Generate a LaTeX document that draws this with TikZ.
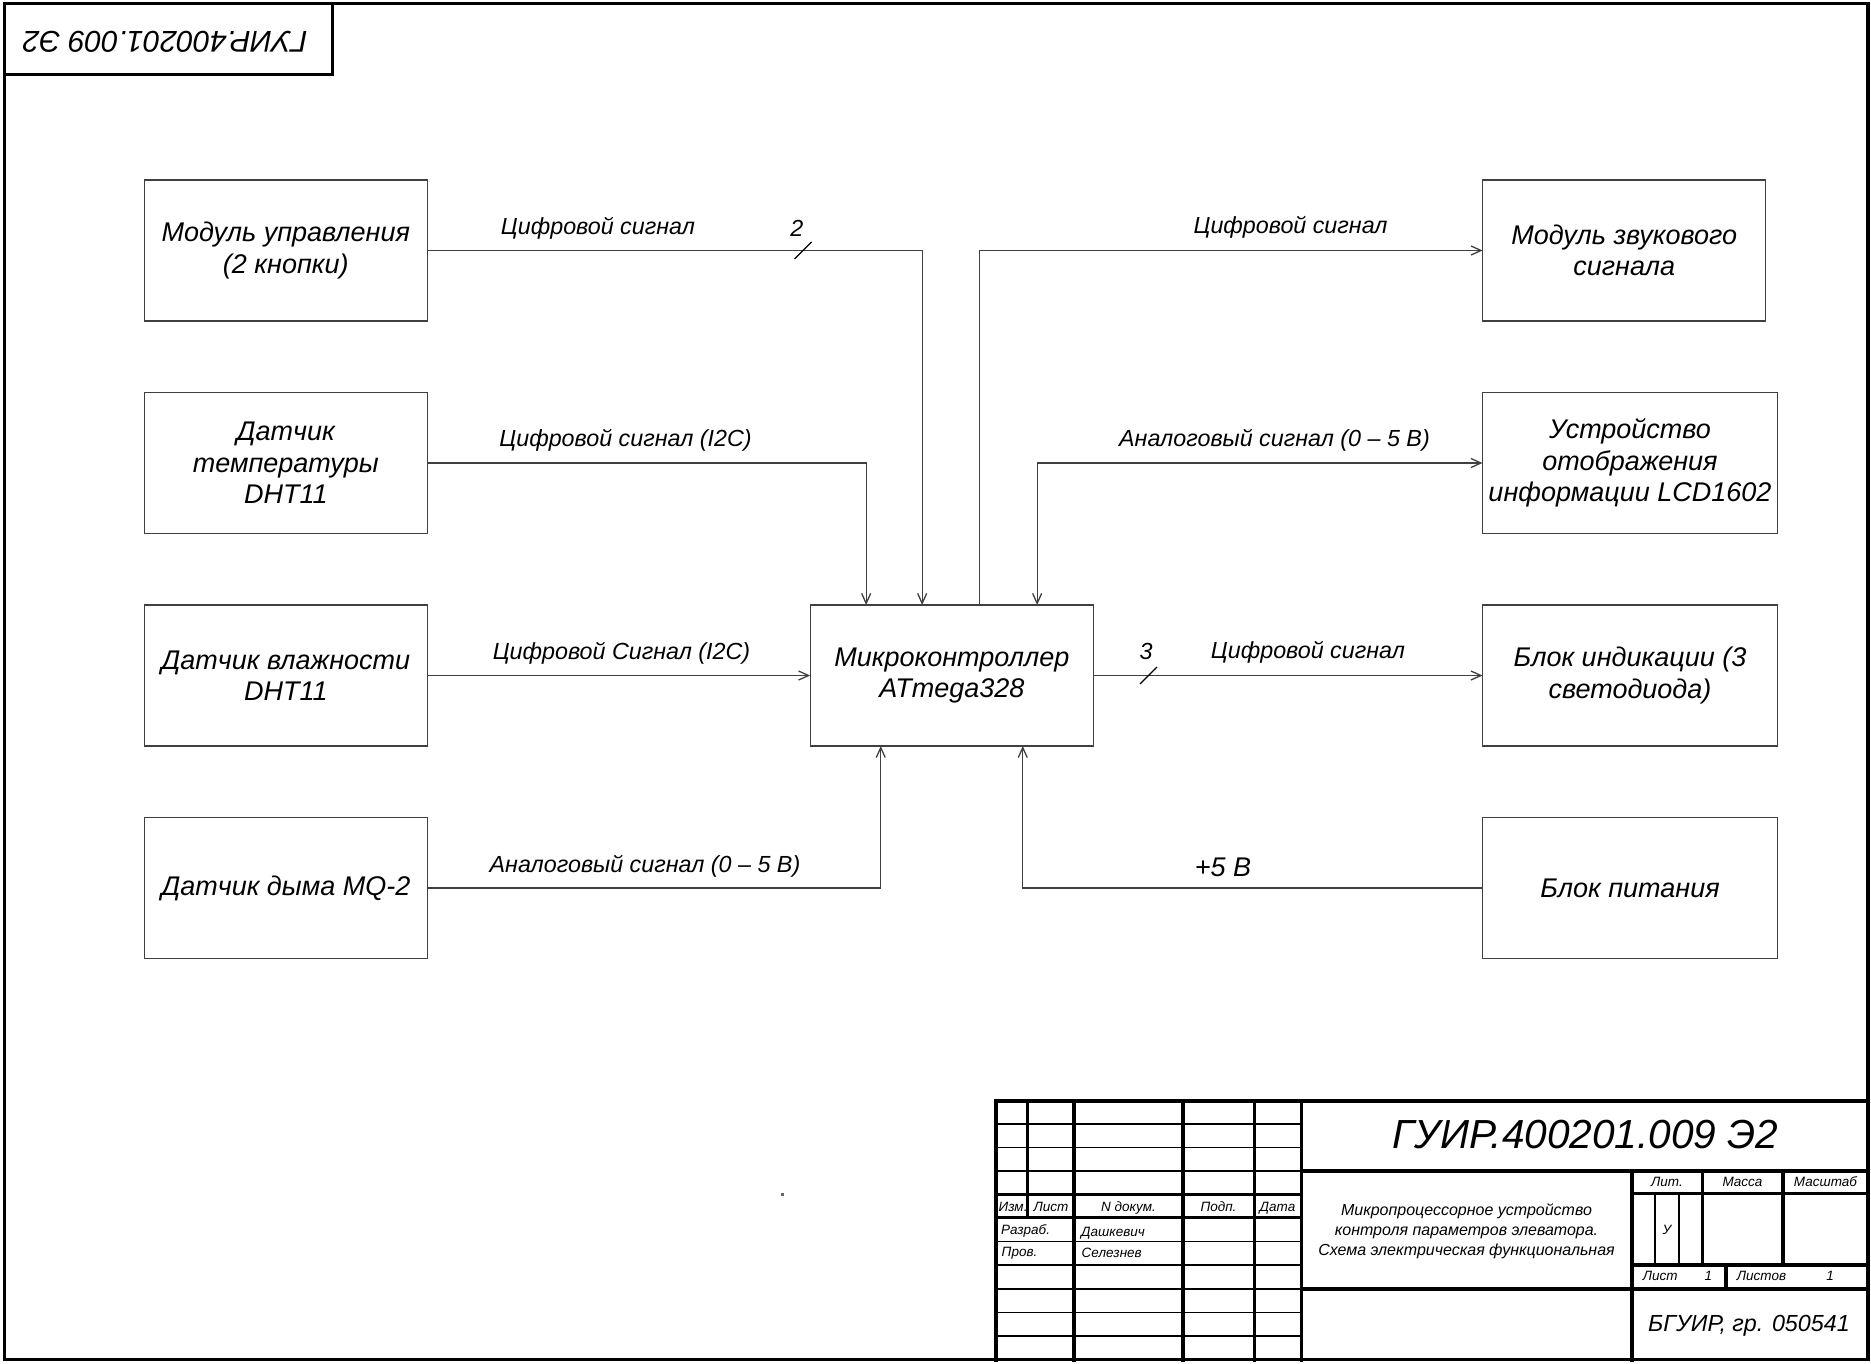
\documentclass[tikz,border=0pt]{standalone}
\usepackage{fontspec}
\setmainfont{Liberation Sans}
\usetikzlibrary{arrows.meta}
\begin{document}
\begin{tikzpicture}[x=1pt,y=-1pt,
  blk/.style={draw=black!75,line width=1.3pt,inner sep=0pt,outer sep=0pt,align=center,
    minimum height=141pt,font=\fontsize{27}{31.5}\selectfont\itshape},
  sig/.style={draw=black!75,line width=1.3pt,-{Straight Barb[length=10pt,width=9pt]}},
  sigb/.style={draw=black!75,line width=1.3pt,{Straight Barb[length=10pt,width=9pt]}-{Straight Barb[length=10pt,width=9pt]}},
  slash/.style={draw=black,line width=1.3pt},
  lbl/.style={anchor=base,inner sep=0pt,font=\fontsize{23.3}{28}\selectfont\itshape},
  biglbl/.style={anchor=base,inner sep=0pt,font=\fontsize{27}{31.5}\selectfont\itshape},
  tk/.style={line width=3.5pt,line cap=rect},
  tn/.style={line width=1.2pt},
  sm/.style={anchor=base,inner sep=0pt,font=\fontsize{13.5}{16}\selectfont\itshape},
  smc/.style={anchor=base west,inner sep=0pt,font=\fontsize{13.5}{16}\selectfont\itshape},
  desc/.style={anchor=base,inner sep=0pt,font=\fontsize{16}{20}\selectfont\itshape}
]
\useasboundingbox (0,0) rectangle (1871,1363);
\fill[white] (0,0) rectangle (1871,1363);

% frame
\draw[line width=3.5pt] (4.3,3.3) rectangle (1868,1359.5);
\draw[line width=3.5pt] (4.3,3.3) rectangle (332.7,74.3);
\node[rotate=180,inner sep=0pt,font=\fontsize{30}{34}\selectfont\itshape] (code) at (165,41.7) {ГУИР.400201.009 Э2};

% blocks
\node[blk,minimum width=283.3pt] (m1) at (285.8,250.5) {Модуль управления\\(2 кнопки)};
\node[blk,minimum width=283.3pt] (m2) at (285.8,463) {Датчик\\температуры\\DHT11};
\node[blk,minimum width=283.3pt] (m3) at (285.8,675.5) {Датчик влажности\\DHT11};
\node[blk,minimum width=283.3pt] (m4) at (285.8,888) {Датчик дыма MQ-2};
\node[blk,minimum width=283.3pt] (mcu) at (951.8,675.5) {Микроконтроллер\\ATmega328};
\node[blk,minimum width=283.1pt] (r1) at (1624.2,250.5) {Модуль звукового\\сигнала};
\node[blk,minimum width=295pt] (r2) at (1630,463) {Устройство\\отображения\\информации LCD1602};
\node[blk,minimum width=295pt] (r3) at (1630,675.5) {Блок индикации (3\\светодиода)};
\node[blk,minimum width=295pt] (r4) at (1630,888) {Блок питания};

% connection points on MCU
\coordinate (in1) at ([xshift=56pt]mcu.north west);
\coordinate (in2) at ([xshift=112pt]mcu.north west);
\coordinate (in3) at ([xshift=169.6pt]mcu.north west);
\coordinate (in4) at ([xshift=227pt]mcu.north west);
\coordinate (in5) at ([xshift=70.6pt]mcu.south west);
\coordinate (in6) at ([xshift=212.6pt]mcu.south west);
\coordinate (s2) at (803,250.5);
\coordinate (s3) at (1148.5,675.5);

% connectors
\draw[sig] (m1.east) -- (s2) -| (in2);
\draw[sig] (m2.east) -| (in1);
\draw[sig] (m3.east) -- (mcu.west);
\draw[sig] (m4.east) -| (in5);
\draw[sig] (in3) |- (r1.west);
\draw[sigb] (in4) |- (r2.west);
\draw[sig] (mcu.east) -- (s3) -- (r3.west);
\draw[sig] (r4.west) -| (in6);
\draw[slash] ([shift={(-8.5,8.5)}]s2) -- ([shift={(8.5,-8.5)}]s2);
\draw[slash] ([shift={(-8.5,8.5)}]s3) -- ([shift={(8.5,-8.5)}]s3);

% labels
\node[lbl] (l1) at (598,234) {Цифровой сигнал};
\node[lbl] (n2) at (796.8,236.5) {2};
\node[lbl] (l2) at (625.6,446.7) {Цифровой сигнал (I2C)};
\node[lbl] (l3) at (621.5,659.3) {Цифровой Сигнал (I2C)};
\node[lbl] (l4) at (645,872.7) {Аналоговый сигнал (0 – 5 В)};
\node[lbl] (q1) at (1290.6,233) {Цифровой сигнал};
\node[lbl] (q2) at (1274.5,446.7) {Аналоговый сигнал (0 – 5 В)};
\node[lbl] (q3) at (1308,658) {Цифровой сигнал};
\node[lbl] (n3) at (1146,659) {3};
\node[biglbl] (q4) at (1223,876.7) {+5 В};

% stray mark
\fill[black!60] (780.5,1193) rectangle (783.5,1195.5);

% title block thick lines
\draw[tk] (996,1101) -- (1868,1101);
\draw[tk] (996,1101) -- (996,1360);
\draw[tk] (1027.5,1101) -- (1027.5,1217.5);
\draw[tk] (1074,1101) -- (1074,1360);
\draw[tk] (1183,1101) -- (1183,1360);
\draw[tk] (1254.5,1101) -- (1254.5,1360);
\draw[tk] (1301.5,1101) -- (1301.5,1360);
\draw[tk] (996,1194.5) -- (1301.5,1194.5);
\draw[tk] (996,1217.5) -- (1301.5,1217.5);
\draw[tk] (1301.5,1171) -- (1868,1171);
\draw[tk] (1301.5,1289) -- (1868,1289);
\draw[tk] (1632,1171) -- (1632,1360);
\draw[tk] (1702.5,1171) -- (1702.5,1265);
\draw[tk] (1783,1171) -- (1783,1265);
\draw[tk] (1632,1193.5) -- (1868,1193.5);
\draw[tk] (1632,1265) -- (1868,1265);
\draw[tk] (1726,1265) -- (1726,1289);
% thin lines
\foreach \yy in {1124,1147.5,1171,1241.5,1265,1289,1312.5,1336}
  \draw[tn] (996,\yy) -- (1301.5,\yy);
\draw[tn] (1655,1193.5) -- (1655,1265);
\draw[tn] (1679,1193.5) -- (1679,1265);

% title block texts
\node[smc] (t1) at (998.5,1211) {Изм.};
\node[sm] (t2) at (1051,1211) {Лист};
\node[sm] (t3) at (1128.5,1211) {N докум.};
\node[sm] (t4) at (1218.5,1211) {Подп.};
\node[sm] (t5) at (1277.5,1211) {Дата};
\node[smc] (t6) at (1001,1234) {Разраб.};
\node[smc] (t7) at (1081,1236.5) {Дашкевич};
\node[smc] (t8) at (1001.5,1256.7) {Пров.};
\node[smc] (t9) at (1081.5,1257) {Селезнев};
\node[sm] (t10) at (1667,1186) {Лит.};
\node[sm] (t11) at (1742.5,1186) {Масса};
\node[sm] (t12) at (1825.5,1186) {Масштаб};
\node[sm] (t13) at (1667,1234) {У};
\node[smc] (t14) at (1642.7,1280.7) {Лист};
\node[sm] (t15) at (1708.3,1280.7) {1};
\node[smc] (t16) at (1736.7,1280.7) {Листов};
\node[sm] (t17) at (1830,1280.7) {1};
\node[anchor=base,inner sep=0pt,font=\fontsize{40.6}{46}\selectfont\itshape] (ttl) at (1585.7,1148.3) {ГУИР.400201.009 Э2};
\node[desc] (d1) at (1466.5,1215) {Микропроцессорное устройство};
\node[desc] (d2) at (1466.5,1235) {контроля параметров элеватора.};
\node[desc] (d3) at (1466.5,1255) {Схема электрическая функциональная};
\node[anchor=base,inner sep=0pt,font=\fontsize{23.3}{28}\selectfont\itshape] (org) at (1749,1331.7) {БГУИР, гр. 050541};
\end{tikzpicture}
\end{document}
